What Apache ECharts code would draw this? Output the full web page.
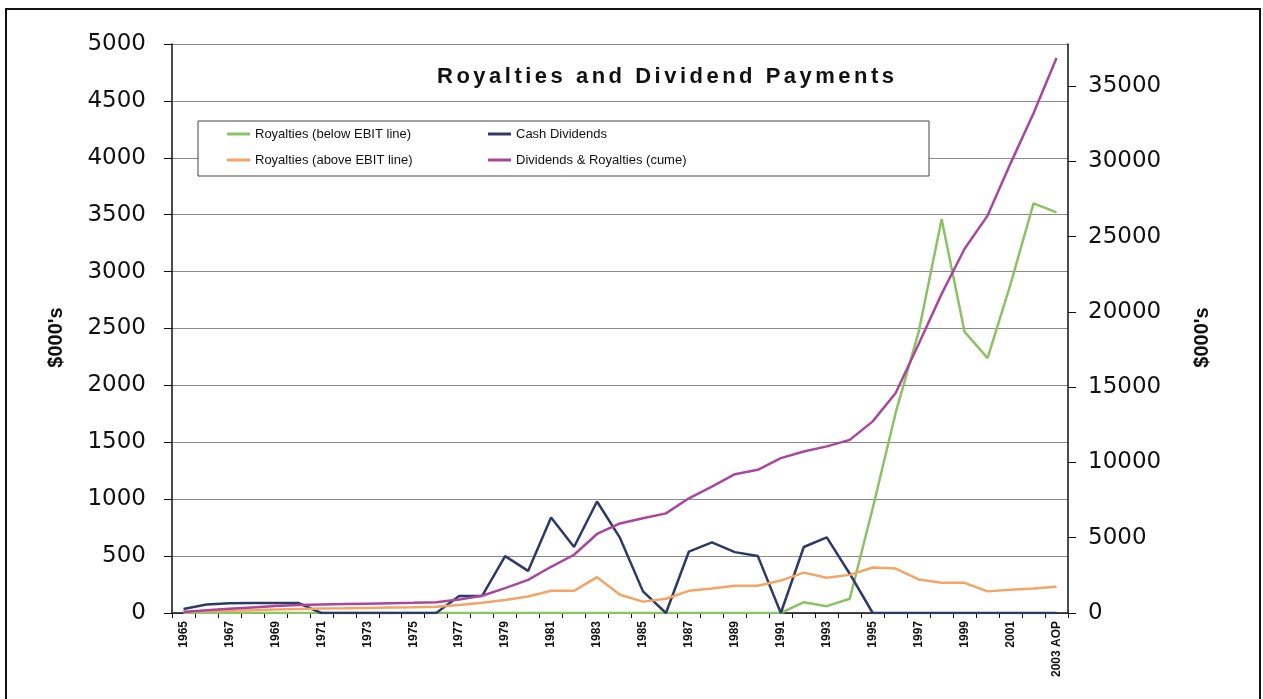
<!DOCTYPE html>
<html>
<head>
<meta charset="utf-8">
<script src="https://cdn.jsdelivr.net/npm/echarts@6/dist/echarts.min.js"></script>
<style>
  html, body { margin: 0; padding: 0; background: #fff; }
  #chart { width: 1263px; height: 699px; }
</style>
</head>
<body>
<div id="chart"></div>
<script>
// ---------- DATA ----------
const years = ['1965','1966','1967','1968','1969','1970','1971','1972','1973','1974',
  '1975','1976','1977','1978','1979','1980','1981','1982','1983','1984',
  '1985','1986','1987','1988','1989','1990','1991','1992','1993','1994',
  '1995','1996','1997','1998','1999','2000','2001','2002','2003 AOP'];

const royaltiesBelow = [0,0,0,0,0,0,0,0,0,0,
  0,0,0,0,0,0,0,0,0,0,
  0,0,0,0,0,0,0,95,60,125,
  920,1760,2470,3460,2470,2240,2890,3600,3520];

const cashDividends = [35,75,85,88,88,88,0,0,0,0,
  0,0,150,150,500,370,840,580,980,660,
  190,0,540,620,535,500,0,580,665,345,
  0,0,0,0,0,0,0,0,0];

const royaltiesAbove = [10,15,20,25,30,35,40,42,45,48,
  50,55,70,90,115,145,195,195,315,160,
  100,125,195,215,240,240,285,355,310,335,
  400,390,295,265,265,190,205,215,230];

const cumulative = [70,180,280,370,460,530,560,590,620,650,
  680,720,900,1150,1650,2200,3070,3870,5250,5950,
  6290,6620,7620,8400,9220,9510,10290,10730,11070,11500,
  12730,14620,17870,21200,24200,26400,29870,33200,36870];

const leftTicks = { min: 0, max: 5000, interval: 500 };
const rightTicks = { min: 0, max: 37800, interval: 5000 };

const TITLE = 'Royalties and Dividend Payments';
const NAMES = ['Royalties (below EBIT line)', 'Cash Dividends',
               'Royalties (above EBIT line)', 'Dividends & Royalties (cume)'];
const COLORS = ['#8cc266', '#2e3a66', '#f2a566', '#a8479c'];

// letter-spaced title: draw the title glyph by glyph with extra tracking
const origFill = CanvasRenderingContext2D.prototype.fillText;
CanvasRenderingContext2D.prototype.fillText = function (t, x, y) {
  if (t === TITLE) {
    const align = this.textAlign;
    this.textAlign = 'left';
    let cx = x;
    for (const ch of t) {
      origFill.call(this, ch, cx, y);
      cx += this.measureText(ch).width + 3.5;
    }
    this.textAlign = align;
    return;
  }
  return origFill.apply(this, arguments);
};

const chart = echarts.init(document.getElementById('chart'), null, { renderer: 'canvas' });
const FONT = 'Liberation Sans, Arial, sans-serif';
const NUMFONT = 'DejaVu Sans, sans-serif';
const plain = v => String(v);

const option = {
  backgroundColor: '#ffffff',
  animation: false,
  title: {
    text: TITLE,
    left: 432, top: 61,
    textStyle: { fontSize: 22, fontWeight: 'bold', fontFamily: FONT, color: '#111' }
  },
  grid: { left: 172, right: 195, top: 44, bottom: 86, containLabel: false },
  legend: [
    {
      data: [NAMES[0], NAMES[2]], orient: 'vertical', left: 227, top: 126, padding: 0,
      icon: 'rect', itemWidth: 23, itemHeight: 3, itemGap: 10, z: 10,
      textStyle: { fontSize: 13, fontFamily: FONT, color: '#111', lineHeight: 16 }
    },
    {
      data: [NAMES[1], NAMES[3]], orient: 'vertical', left: 488, top: 126, padding: 0,
      icon: 'rect', itemWidth: 23, itemHeight: 3, itemGap: 10, z: 10,
      textStyle: { fontSize: 13, fontFamily: FONT, color: '#111', lineHeight: 16 }
    }
  ],
  graphic: [
    { type: 'rect', z: 5, shape: { x: 198, y: 121, width: 731, height: 55 },
      style: { fill: '#ffffff', stroke: '#444', lineWidth: 1 } },
    { type: 'rect', z: 5, shape: { x: 6, y: 9, width: 1254, height: 710 },
      style: { fill: 'none', stroke: '#111', lineWidth: 2 } }
  ],
  xAxis: {
    type: 'category', data: years, boundaryGap: true,
    axisLine: { lineStyle: { color: '#111', width: 1.5 } },
    axisTick: { show: true, interval: 0, length: 5, lineStyle: { color: '#111' } },
    axisLabel: { interval: 1, rotate: 90, fontSize: 12, fontWeight: 'bold',
                 fontFamily: FONT, color: '#111', margin: 8 },
    splitLine: { show: false }
  },
  yAxis: [
    {
      type: 'value', position: 'left', min: leftTicks.min, max: leftTicks.max, interval: leftTicks.interval,
      name: "$000's", nameLocation: 'middle', nameRotate: 90, nameGap: 106,
      nameTextStyle: { fontSize: 20, fontWeight: 'bold', fontFamily: FONT, color: '#111', padding: [0, 18, 0, 0] },
      axisLine: { show: true, lineStyle: { color: '#111', width: 1.5 } },
      axisTick: { show: true, length: 8, lineStyle: { color: '#111' } },
      axisLabel: { fontSize: 23, fontFamily: NUMFONT, color: '#111', margin: 26, formatter: plain },
      splitLine: { show: true, lineStyle: { color: '#8a8a8a', width: 1 } }
    },
    {
      type: 'value', position: 'right', min: rightTicks.min, max: rightTicks.max, interval: rightTicks.interval,
      name: "$000's", nameLocation: 'middle', nameRotate: 90, nameGap: 124,
      nameTextStyle: { fontSize: 20, fontWeight: 'bold', fontFamily: FONT, color: '#111', padding: [0, 18, 0, 0] },
      axisLine: { show: true, lineStyle: { color: '#111', width: 1.5 } },
      axisTick: { show: true, length: 8, lineStyle: { color: '#111' } },
      axisLabel: { fontSize: 23, fontFamily: NUMFONT, color: '#111', margin: 20, showMaxLabel: false, formatter: plain },
      splitLine: { show: false }
    }
  ],
  series: [
    { name: NAMES[0], type: 'line', data: royaltiesBelow, yAxisIndex: 0, symbol: 'none',
      itemStyle: { color: COLORS[0] }, lineStyle: { color: COLORS[0], width: 2.5 } },
    { name: NAMES[1], type: 'line', data: cashDividends, yAxisIndex: 0, symbol: 'none',
      itemStyle: { color: COLORS[1] }, lineStyle: { color: COLORS[1], width: 2.5 } },
    { name: NAMES[2], type: 'line', data: royaltiesAbove, yAxisIndex: 0, symbol: 'none',
      itemStyle: { color: COLORS[2] }, lineStyle: { color: COLORS[2], width: 2.5 } },
    { name: NAMES[3], type: 'line', data: cumulative, yAxisIndex: 1, symbol: 'none',
      itemStyle: { color: COLORS[3] }, lineStyle: { color: COLORS[3], width: 2.5 } }
  ]
};
chart.setOption(option);
</script>
</body>
</html>
